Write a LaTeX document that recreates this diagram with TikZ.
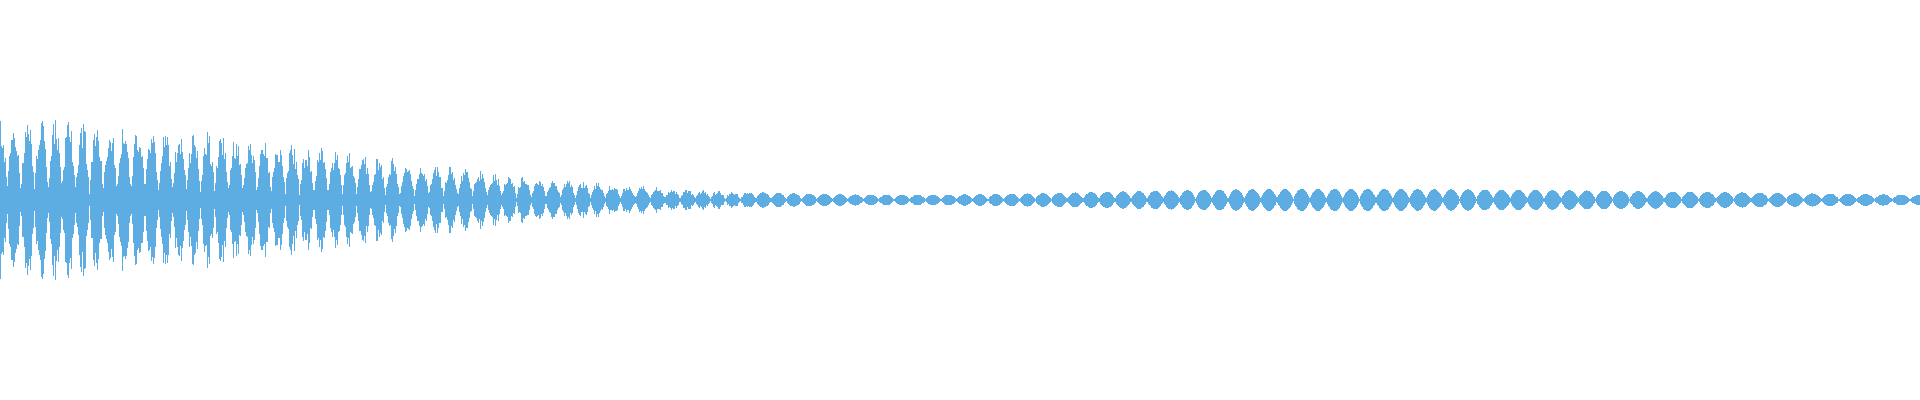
\documentclass[tikz,border=0pt]{standalone}
\definecolor{wave}{RGB}{93,173,226}
\begin{document}
\begin{tikzpicture}[x=0.5pt,y=0.5pt]
\useasboundingbox (0,-200) rectangle (1920,200);
\pgfmathsetseed{7}
\foreach \x in {0,1,...,1919}{
  \pgfmathsetmacro\p{13.6+2.0*\x/1920}
  \pgfmathsetmacro\q{mod(\x/\p,2)}
  \pgfmathsetmacro\u{\x/480}
  \pgfmathsetmacro\v{(\x-1320)/(\x<1320 ? 360 : 680)}
  \pgfmathsetmacro\A{82*exp(-\u*\u) + 11*exp(-\v*\v)}
  \pgfmathsetmacro\n{\x<750 ? (0.62+0.38*rnd) : 1}
  \pgfmathsetmacro\c{abs(cos(180*\q))+0.01}
  \pgfmathsetmacro\f{max(1.2, \A*\n*(0.08+0.92*exp(0.8*ln(\c))))}
  \fill[wave] (\x-0.1,-\f) rectangle (\x+1.1,\f);
}
\end{tikzpicture}
\end{document}
